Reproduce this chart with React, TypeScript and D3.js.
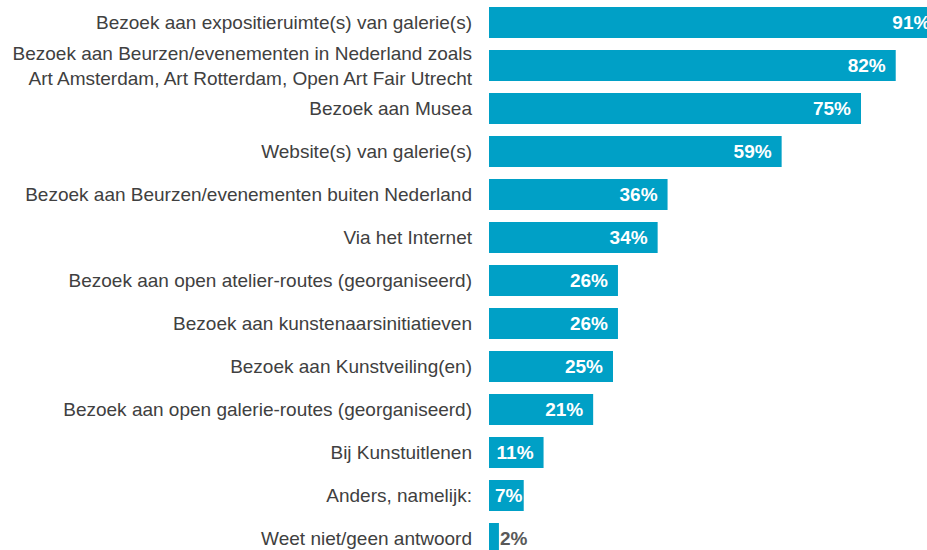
import React from "react";
import * as d3 from "d3";

const categories: string[] = [
  "Bezoek aan expositieruimte(s) van galerie(s)",
  "Bezoek aan Beurzen/evenementen in Nederland zoals|Art Amsterdam, Art Rotterdam, Open Art Fair Utrecht",
  "Bezoek aan Musea",
  "Website(s) van galerie(s)",
  "Bezoek aan Beurzen/evenementen buiten Nederland",
  "Via het Internet",
  "Bezoek aan open atelier-routes (georganiseerd)",
  "Bezoek aan kunstenaarsinitiatieven",
  "Bezoek aan Kunstveiling(en)",
  "Bezoek aan open galerie-routes (georganiseerd)",
  "Bij Kunstuitlenen",
  "Anders, namelijk:",
  "Weet niet/geen antwoord",
];
const values: number[] = [91, 82, 75, 59, 36, 34, 26, 26, 25, 21, 11, 7, 2];

const W = 927;
const H = 550;

export default function App() {
  const x = d3.scaleLinear().domain([0, 100]).range([489, 985]);
  const y = d3
    .scaleBand<string>()
    .domain(categories)
    .range([1, 560])
    .paddingInner(12 / 43)
    .paddingOuter(6 / 43);
  const bw = y.bandwidth();
  const font = "'Liberation Sans', Arial, sans-serif";
  const fs = 19;
  const vfs = 19;

  return (
    <svg
      width={W}
      height={H}
      style={{ position: "absolute", left: 0, top: 0, background: "#fff" }}
      fontFamily={font}
    >
      {categories.map((c, i) => {
        const y0 = y(c)!;
        const cy = y0 + bw / 2;
        const x0 = x(0);
        const x1 = x(values[i]);
        const lines = c.split("|");
        const label = `${values[i]}%`;
        const tw = (label.length - 1) * 0.556 * vfs + 0.889 * vfs;
        const inside = x1 - x0 > 20;
        let lx: number;
        if (inside) lx = Math.max(x1 - 10, x0 + 6 + tw);
        else lx = x1 + 1 + tw;
        return (
          <g key={c}>
            <rect x={x0} y={y0} width={x1 - x0} height={bw} fill="#00A0C6" />
            {lines.map((ln, k) => (
              <text
                key={k}
                x={472}
                y={cy + (k - (lines.length - 1) / 2) * 25}
                textAnchor="end"
                dominantBaseline="central"
                fontSize={fs}
                fill="#404040"
              >
                {ln}
              </text>
            ))}
            <text
              x={lx}
              y={cy}
              textAnchor="end"
              dominantBaseline="central"
              fontSize={vfs}
              fontWeight="bold"
              fill={inside ? "#ffffff" : "#595959"}
            >
              {label}
            </text>
          </g>
        );
      })}
    </svg>
  );
}
